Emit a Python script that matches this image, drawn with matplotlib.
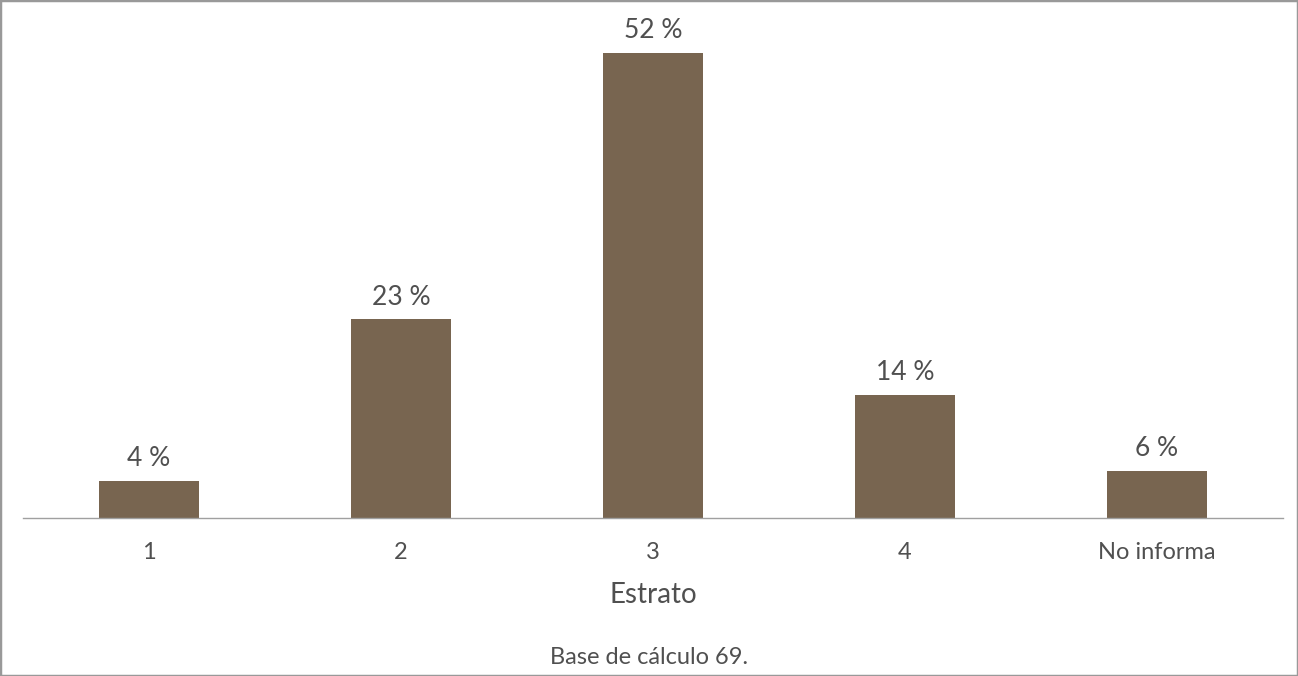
import matplotlib.pyplot as plt
from matplotlib.patches import Rectangle

categories = ["1", "2", "3", "4", "No informa"]
values = [4.2, 22.3, 52.2, 13.8, 5.3]
labels = ["4 %", "23 %", "52 %", "14 %", "6 %"]

plt.rcParams['font.family'] = ['Lato', 'DejaVu Sans']

W, H = 1298, 676
fig = plt.figure(figsize=(W / 100, H / 100), dpi=100)
txt = "#505050"
wt = "normal"

# axes placed in pixel terms: baseline at y=518, x from 23 to 1283
ax = fig.add_axes([23 / W, 1 - 518 / H, 1260 / W, 498 / H])
x = range(len(categories))
ax.bar(x, values, width=0.4, color="#786550")
ax.set_xlim(-0.5, 4.5)
ax.set_ylim(0, 52.2 * 498 / 465)

for i, (v, lab) in enumerate(zip(values, labels)):
    ax.annotate(lab, (i, v), xytext=(0, 7), textcoords="offset points",
                ha="center", va="bottom", fontsize=19, color=txt,
                fontweight=wt)

for s in ["top", "right", "left"]:
    ax.spines[s].set_visible(False)
ax.spines["bottom"].set_color("#a0a0a0")
ax.spines["bottom"].set_linewidth(1)
ax.set_yticks([])
ax.set_xticks(list(x))
ax.set_xticklabels(categories, fontsize=17, color=txt, fontweight=wt)
ax.tick_params(axis="x", length=0, pad=17)
ax.set_xlabel("Estrato", fontsize=20, color=txt, fontweight=wt, labelpad=14)

fig.text(0.5, 1 - 657 / H, "Base de cálculo 69.", ha="center", va="center",
         fontsize=17, color=txt, fontweight=wt)

fig.patches.append(Rectangle((0, 0), 1, 1, transform=fig.transFigure, fill=False,
                             edgecolor="#999999", linewidth=2.5))

fig.savefig("out.png", dpi=100)
